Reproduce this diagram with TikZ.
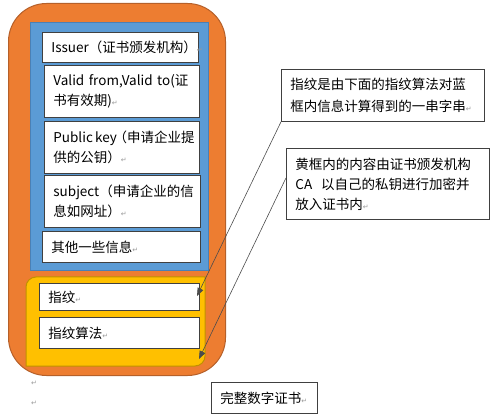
\documentclass[tikz,border=0pt]{standalone}
\usepackage{fontspec}
\setmainfont{Noto Sans CJK SC}
\newfontfamily\dvfont{DejaVu Sans}
\usetikzlibrary{arrows.meta,calc}
\definecolor{orgfill}{HTML}{ED7D31}
\definecolor{orgline}{HTML}{B5602A}
\definecolor{bluefill}{HTML}{5B9BD5}
\definecolor{blueline}{HTML}{4A80B5}
\definecolor{yelfill}{HTML}{FFC000}
\definecolor{yelline}{HTML}{C09000}
\definecolor{boxline}{HTML}{404040}
\newcommand\pmk{{\dvfont\color{black!40}\fontsize{7}{7}\selectfont ↵}}
\begin{document}
\begin{tikzpicture}[x=1pt,y=-1pt,
  wbox/.style={draw=boxline, fill=white, line width=0.8pt, anchor=north west,
    align=left, inner xsep=9pt, inner ysep=0pt,
    font=\fontsize{13.5}{20}\selectfont},
  conn/.style={draw=black!70, line width=0.6pt, -{Triangle[length=8pt,width=6pt]}}
]
\useasboundingbox (0,0) rectangle (500,419);
% outer orange
\node[draw=orgline, fill=orgfill, line width=1pt, rounded corners=38pt,
  anchor=north west, minimum width=217pt, minimum height=372pt, inner sep=0pt] (outer) at (8,3) {};
% blue
\node[draw=blueline, fill=bluefill, line width=1pt,
  anchor=north west, minimum width=178pt, minimum height=248pt, inner sep=0pt] (blue) at (30,22) {};
% yellow (rounded top-left and bottom-right)
\draw[draw=yelline, fill=yelfill, line width=1pt]
  (26,366) -- (26,287) .. controls (26,281.5) and (30.5,277) .. (36,277)
  -- (205,277) -- (205,356) .. controls (205,361.5) and (200.5,366) .. (195,366) -- cycle;
% boxes in blue
\node[wbox, text width=138pt, minimum height=30pt] (issuer) at (42,32) {Issuer（证书颁发机构）\pmk};
\node[wbox, text width=137pt, minimum height=52pt] (valid) at (44,65) {Valid from,Valid to(证\\书有效期)\pmk};
\node[wbox, text width=137pt, minimum height=52pt] (pubkey) at (44,121) {\mbox{Public\,key\kern-0.25em（申请企业提}\\供的公钥）\pmk};
\node[wbox, text width=138pt, minimum height=52pt] (subject) at (44,175) {subject（申请企业的信\\息如网址）\pmk};
\node[wbox, text width=140pt, minimum height=31pt] (other) at (42,231) {其他一些信息\pmk};
% boxes in yellow
\node[wbox, text width=142pt, minimum height=27pt] (fp) at (39,283) {指纹\pmk};
\node[wbox, text width=142pt, minimum height=31pt] (fpalg) at (39,317) {指纹算法\pmk};
% callouts
\node[wbox, text width=185pt, minimum height=52pt, font=\fontsize{13.5}{22}\selectfont] (note1) at (281,69) {指纹是由下面的指纹算法对蓝\\框内信息计算得到的一串字串\pmk};
\node[wbox, text width=185pt, minimum height=71pt] (note2) at (286,148) {黄框内的内容由证书颁发机构\\CA\ \ 以自己的私钥进行加密并\\放入证书内\pmk};
\node[wbox, text width=88pt, minimum height=31pt] (title) at (211,382) {完整数字证书\pmk};
% stray paragraph marks
\node[inner sep=0pt] (pm1) at (34,383) {\pmk};
\node[inner sep=0pt] (pm2) at (34,403) {\pmk};
% connectors
\coordinate (tip1) at (197,296);
\coordinate (tip2) at (199,359);
\draw[conn] (note1.south west) -- (tip1);
\draw[conn] ([yshift=6pt]note2.west) -- (tip2);
\end{tikzpicture}
\end{document}
